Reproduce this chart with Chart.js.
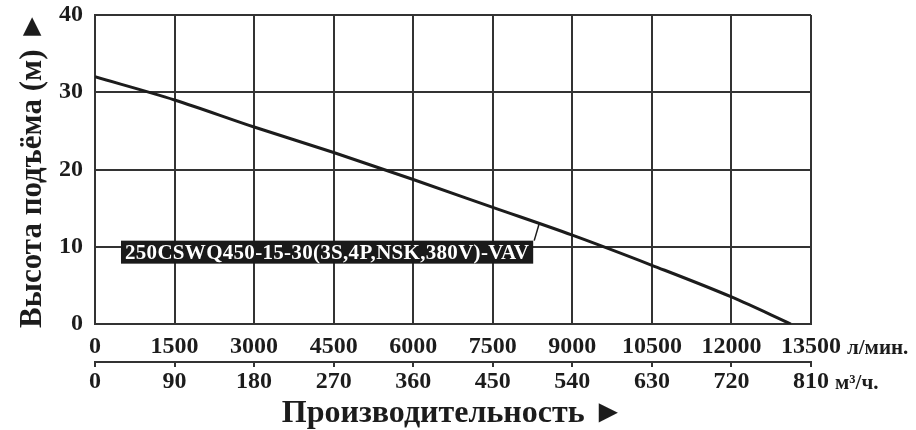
<!DOCTYPE html>
<html>
<head>
<meta charset="utf-8">
<script src="https://cdn.jsdelivr.net/npm/chart.js@4.4.1/dist/chart.umd.min.js"></script>
<style>
  html, body { margin: 0; padding: 0; background: #fff; }
  #wrap { width: 916px; height: 430px; }
</style>
</head>
<body>
<div id="wrap"><canvas id="pumpChart" width="916" height="430"></canvas></div>
<script>
// flow in l/min, head in m
const flowLmin = [0, 1500, 3000, 4500, 6000, 7500, 9000, 10500, 12000, 13120];
const headM = [32, 29, 25.5, 22.2, 18.7, 15.1, 11.5, 7.6, 3.5, 0];
const flowTicksLmin = [0, 1500, 3000, 4500, 6000, 7500, 9000, 10500, 12000, 13500];
const flowTicksM3h = [0, 90, 180, 270, 360, 450, 540, 630, 720, 810];
const headTicks = [0, 10, 20, 30, 40];
const modelName = "250CSWQ450-15-30(3S,4P,NSK,380V)-VAV";

const FONT = "'Liberation Serif', 'Times New Roman', serif";
const INK = "#1c1c1c";
const GRID = "#333";

const points = flowLmin.map((f, i) => ({ x: f, y: headM[i] }));

const unitsPlugin = {
  id: "units",
  beforeDraw(chart) {
    const ctx = chart.ctx;
    ctx.save();
    ctx.fillStyle = "#fff";
    ctx.fillRect(0, 0, chart.width, chart.height);
    ctx.restore();
  },
  afterDraw(chart) {
    const ctx = chart.ctx;
    const x = chart.scales.x;
    const x2 = chart.scales.x2;
    ctx.save();
    ctx.fillStyle = INK;
    ctx.textBaseline = "middle";
    ctx.textAlign = "left";
    ctx.font = "bold 24px " + FONT;
    const w1 = ctx.measureText(String(flowTicksLmin[flowTicksLmin.length - 1])).width;
    const w2 = ctx.measureText(String(flowTicksM3h[flowTicksM3h.length - 1])).width;
    ctx.font = "bold 21px " + FONT;
    ctx.fillText("л/мин.", x.getPixelForValue(13500) + w1 / 2 + 6, 349);
    ctx.fillText("м³/ч.", x2.getPixelForValue(810) + w2 / 2 + 6, 384);
    ctx.restore();
  },
};

const labelPlugin = {
  id: "modelLabel",
  afterDatasetsDraw(chart) {
    const ctx = chart.ctx;
    const xs = chart.scales.x;
    const ys = chart.scales.y;
    ctx.save();
    ctx.font = "bold 21px " + FONT;
    ctx.letterSpacing = "0.3px";
    const tw = ctx.measureText(modelName).width;
    const left = xs.getPixelForValue(490);
    const cy = ys.getPixelForValue(9.3);
    const h = 23;
    const w = tw + 8;
    // leader from box corner to curve
    ctx.strokeStyle = INK;
    ctx.lineWidth = 1.5;
    ctx.beginPath();
    ctx.moveTo(left + w + 1, cy - h / 2);
    ctx.lineTo(xs.getPixelForValue(8380), ys.getPixelForValue(13.1));
    ctx.stroke();
    ctx.fillStyle = "#1a1a1a";
    ctx.fillRect(left, cy - h / 2, w, h);
    ctx.fillStyle = "#fff";
    ctx.textBaseline = "middle";
    ctx.textAlign = "left";
    ctx.fillText(modelName, left + 4, cy + 1);
    ctx.restore();
  },
};

const tickFont = { family: FONT, size: 24, weight: "bold" };
const plain = (v) => String(v);
const noPad = (s) => { s.paddingTop = 0; s.paddingBottom = 0; s.paddingLeft = 0; s.paddingRight = 0; };

new Chart(document.getElementById("pumpChart"), {
  type: "scatter",
  data: {
    datasets: [
      {
        data: points,
        showLine: true,
        borderColor: INK,
        borderWidth: 3,
        pointRadius: 0,
        tension: 0.3,
        cubicInterpolationMode: "monotone",
      },
    ],
  },
  options: {
    responsive: false,
    animation: false,
    layout: { padding: { top: 15, right: 105, left: 0, bottom: 0 } },
    plugins: {
      legend: { display: false },
      tooltip: { enabled: false },
    },
    scales: {
      y: {
        min: 0,
        max: 40,
        afterBuildTicks: (s) => { s.ticks = headTicks.map((v) => ({ value: v })); },
        afterFit: (s) => { s.width = 95; noPad(s); },
        ticks: { color: INK, font: tickFont, padding: 12, callback: plain },
        grid: { color: GRID, lineWidth: 2, drawTicks: false },
        border: { color: GRID, width: 2 },
        title: {
          display: true,
          text: "Высота подъёма (м) ►",
          color: INK,
          font: { family: FONT, size: 31, weight: "bold", lineHeight: 1 },
          padding: { top: 17, bottom: 0 },
        },
      },
      x: {
        type: "linear",
        position: "bottom",
        weight: 0,
        min: 0,
        max: 13500,
        afterBuildTicks: (s) => { s.ticks = flowTicksLmin.map((v) => ({ value: v })); },
        afterFit: (s) => { s.height = 38; noPad(s); },
        ticks: { color: INK, font: tickFont, padding: 8, maxRotation: 0, callback: plain },
        grid: { color: GRID, lineWidth: 2, drawTicks: false },
        border: { color: GRID, width: 2 },
      },
      x2: {
        type: "linear",
        position: "bottom",
        weight: 1,
        min: 0,
        max: 810,
        afterBuildTicks: (s) => { s.ticks = flowTicksM3h.map((v) => ({ value: v })); },
        afterFit: (s) => { s.height = 68; noPad(s); },
        ticks: { color: INK, font: tickFont, padding: 0, maxRotation: 0, callback: plain },
        grid: { color: GRID, lineWidth: 2, drawOnChartArea: false, drawTicks: true, tickLength: 5 },
        border: { color: GRID, width: 2 },
        title: {
          display: true,
          text: "Производительность ►",
          color: INK,
          font: { family: FONT, size: 32, weight: "bold", lineHeight: 1 },
          padding: { top: 0, bottom: 0 },
        },
      },
    },
  },
  plugins: [unitsPlugin, labelPlugin],
});
</script>
</body>
</html>
